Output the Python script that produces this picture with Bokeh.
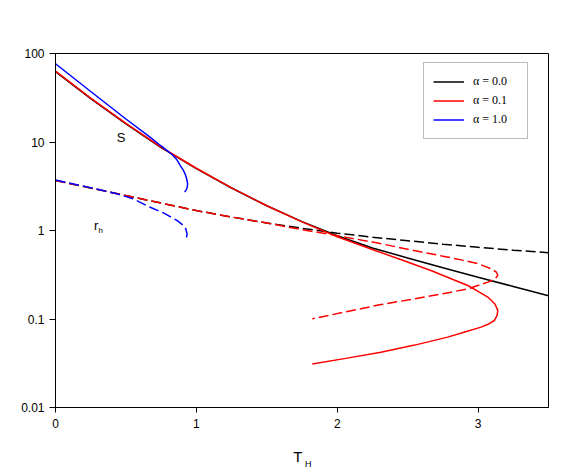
from bokeh.plotting import figure
from bokeh.models import Range1d, FixedTicker, Legend, LegendItem, Label, LinearAxis
from bokeh.embed import file_html
from bokeh.resources import INLINE

# ---- data ----
x_ticks = [0, 1, 2, 3]
y_ticks = [0.01, 0.1, 1, 10, 100]
y_tick_labels = ["0.01", "0.1", "1", "10", "100"]
legend_labels = ["\u03b1 = 0.0", "\u03b1 = 0.1", "\u03b1 = 1.0"]

# S curves (solid)
s0_x = [0, 0.25, 0.5, 0.75, 1.0, 1.25, 1.5, 1.75, 2.0, 2.25, 2.5, 2.75, 3.0, 3.25, 3.5]
s0_y = [62.4, 30.9, 16.03, 8.66, 5.01, 3.02, 1.905, 1.259, 0.871, 0.635, 0.490, 0.380, 0.297, 0.233, 0.183]

s1_x = [0, 0.25, 0.5, 0.75, 1.0, 1.25, 1.5, 1.75, 2.0, 2.25, 2.45, 2.665, 2.8, 2.927, 3.0, 3.069,
        3.12, 3.14, 3.135, 3.116, 3.07, 3.021, 2.9, 2.784, 2.55, 2.31, 2.06, 1.823]
s1_y = [63.1, 31.3, 16.2, 8.75, 5.05, 3.03, 1.905, 1.253, 0.851, 0.610, 0.470, 0.353, 0.289, 0.239, 0.205, 0.177,
        0.148, 0.125, 0.110, 0.0962, 0.0871, 0.0809, 0.0708, 0.0624, 0.0507, 0.0422, 0.0359, 0.0311]

s2_x = [0, 0.25, 0.5, 0.673, 0.75, 0.827, 0.86, 0.886, 0.905, 0.92, 0.932, 0.938, 0.935, 0.928, 0.917]
s2_y = [76.6, 37.2, 18.2, 11.3, 9.02, 7.23, 6.35, 5.42, 4.87, 4.37, 3.80, 3.37, 3.08, 2.88, 2.71]

# r_h curves (dashed)
r0_x = [0, 0.25, 0.5, 0.75, 1.0, 1.25, 1.5, 1.75, 2.0, 2.25, 2.5, 2.75, 3.0, 3.25, 3.5]
r0_y = [3.67, 3.02, 2.48, 2.04, 1.68, 1.42, 1.216, 1.059, 0.933, 0.841, 0.767, 0.700, 0.646, 0.600, 0.560]

r1_x = [0, 0.25, 0.5, 0.75, 1.0, 1.25, 1.5, 1.75, 1.954, 2.25, 2.547, 2.75, 2.903, 3.0, 3.093, 3.13,
        3.14, 3.12, 3.069, 2.927, 2.75, 2.547, 2.3, 2.072, 1.823]
r1_y = [3.67, 3.02, 2.48, 2.04, 1.68, 1.42, 1.216, 1.023, 0.902, 0.741, 0.594, 0.513, 0.458, 0.422, 0.369, 0.339,
        0.310, 0.282, 0.261, 0.219, 0.193, 0.169, 0.1445, 0.1216, 0.1005]

r2_x = [0, 0.25, 0.436, 0.55, 0.673, 0.77, 0.862, 0.905, 0.925, 0.934, 0.93, 0.922]
r2_y = [3.72, 3.04, 2.60, 2.28, 1.83, 1.57, 1.30, 1.15, 1.047, 0.916, 0.832, 0.757]

colors = ["black", "#ff0000", "#0000ff"]

p = figure(frame_width=493, frame_height=354, x_range=Range1d(0, 3.5), y_range=Range1d(0.01, 100),
           y_axis_type="log", output_backend="svg", toolbar_location=None,
           min_border_left=55, min_border_right=22, min_border_top=53, min_border_bottom=40)

p.xgrid.visible = False
p.ygrid.visible = False
p.background_fill_color = "white"
p.border_fill_color = "white"
p.outline_line_color = "black"
p.outline_line_width = 1

p.xaxis.ticker = FixedTicker(ticks=x_ticks, minor_ticks=[])
p.yaxis.ticker = FixedTicker(ticks=y_ticks, minor_ticks=[])
p.yaxis.major_label_overrides = {v: s for v, s in zip(y_ticks, y_tick_labels)}
p.xaxis.major_label_overrides = {v: str(v) for v in x_ticks}
for ax in (p.xaxis, p.yaxis):
    ax.minor_tick_line_color = None
    ax.major_tick_in = 0
    ax.axis_line_color = "black"
    ax.major_tick_line_color = "black"
    ax.major_label_text_font = "Liberation Sans"
    ax.major_label_text_font_size = "12px"
    ax.major_label_text_color = "black"
p.yaxis.major_tick_out = 6
p.xaxis.major_tick_out = 5
p.yaxis.major_label_standoff = 5
p.xaxis.major_label_standoff = 6

# x axis title: "T" with subscript "H"
p.xaxis.axis_label = "T\u00a0\u00a0"
p.xaxis.axis_label_text_font = "Liberation Sans"
p.xaxis.axis_label_text_font_style = "normal"
p.xaxis.axis_label_text_font_size = "15px"
p.xaxis.axis_label_text_color = "black"
p.xaxis.axis_label_standoff = 17

sub_axis = LinearAxis(ticker=FixedTicker(ticks=[], minor_ticks=[]), axis_line_color=None,
                      major_tick_line_color=None, minor_tick_line_color=None,
                      major_label_text_font_size="0px", major_tick_out=0, major_label_standoff=0,
                      axis_label="\u00a0" * 5 + "H", axis_label_text_font="Liberation Sans",
                      axis_label_text_font_style="normal", axis_label_text_font_size="9px",
                      axis_label_text_color="black", axis_label_standoff=-9)
p.add_layout(sub_axis, "below")

lw = 1.5
rs0 = p.line(s0_x, s0_y, line_color=colors[0], line_width=lw)
rd0 = p.line(r0_x, r0_y, line_color=colors[0], line_width=lw, line_dash="10 4")
rs1 = p.line(s1_x, s1_y, line_color=colors[1], line_width=lw)
rd1 = p.line(r1_x, r1_y, line_color=colors[1], line_width=lw, line_dash="10 4")
rs2 = p.line(s2_x, s2_y, line_color=colors[2], line_width=lw)
rd2 = p.line(r2_x, r2_y, line_color=colors[2], line_width=lw, line_dash="10 4")

legend = Legend(items=[LegendItem(label=legend_labels[i], renderers=[r]) for i, r in enumerate([rs0, rs1, rs2])],
                location=(368, 268))
legend.label_text_font = "Liberation Serif"
legend.label_text_font_size = "12px"
legend.label_text_color = "black"
legend.border_line_color = "#777777"
legend.border_line_width = 1.5
legend.glyph_width = 31
legend.glyph_height = 19
legend.label_height = 19
legend.label_width = 45
legend.label_standoff = 9
legend.padding = 9
legend.spacing = 0
legend.margin = 0
p.add_layout(legend)

# curve-family annotations
p.add_layout(Label(x=0.466, y=10 ** 1.051, text="S", text_font="Liberation Sans", text_font_size="13px",
                   text_align="center", text_baseline="alphabetic", text_color="black"))
p.add_layout(Label(x=0.274, y=10 ** 0.06, text="r", text_font="Liberation Sans", text_font_size="13px",
                   text_align="left", text_baseline="alphabetic", text_color="black"))
p.add_layout(Label(x=0.306, y=10 ** 0.003, text="h", text_font="Liberation Sans", text_font_size="8px",
                   text_align="left", text_baseline="alphabetic", text_color="black"))

open("out.html", "w").write(file_html(p, INLINE))
